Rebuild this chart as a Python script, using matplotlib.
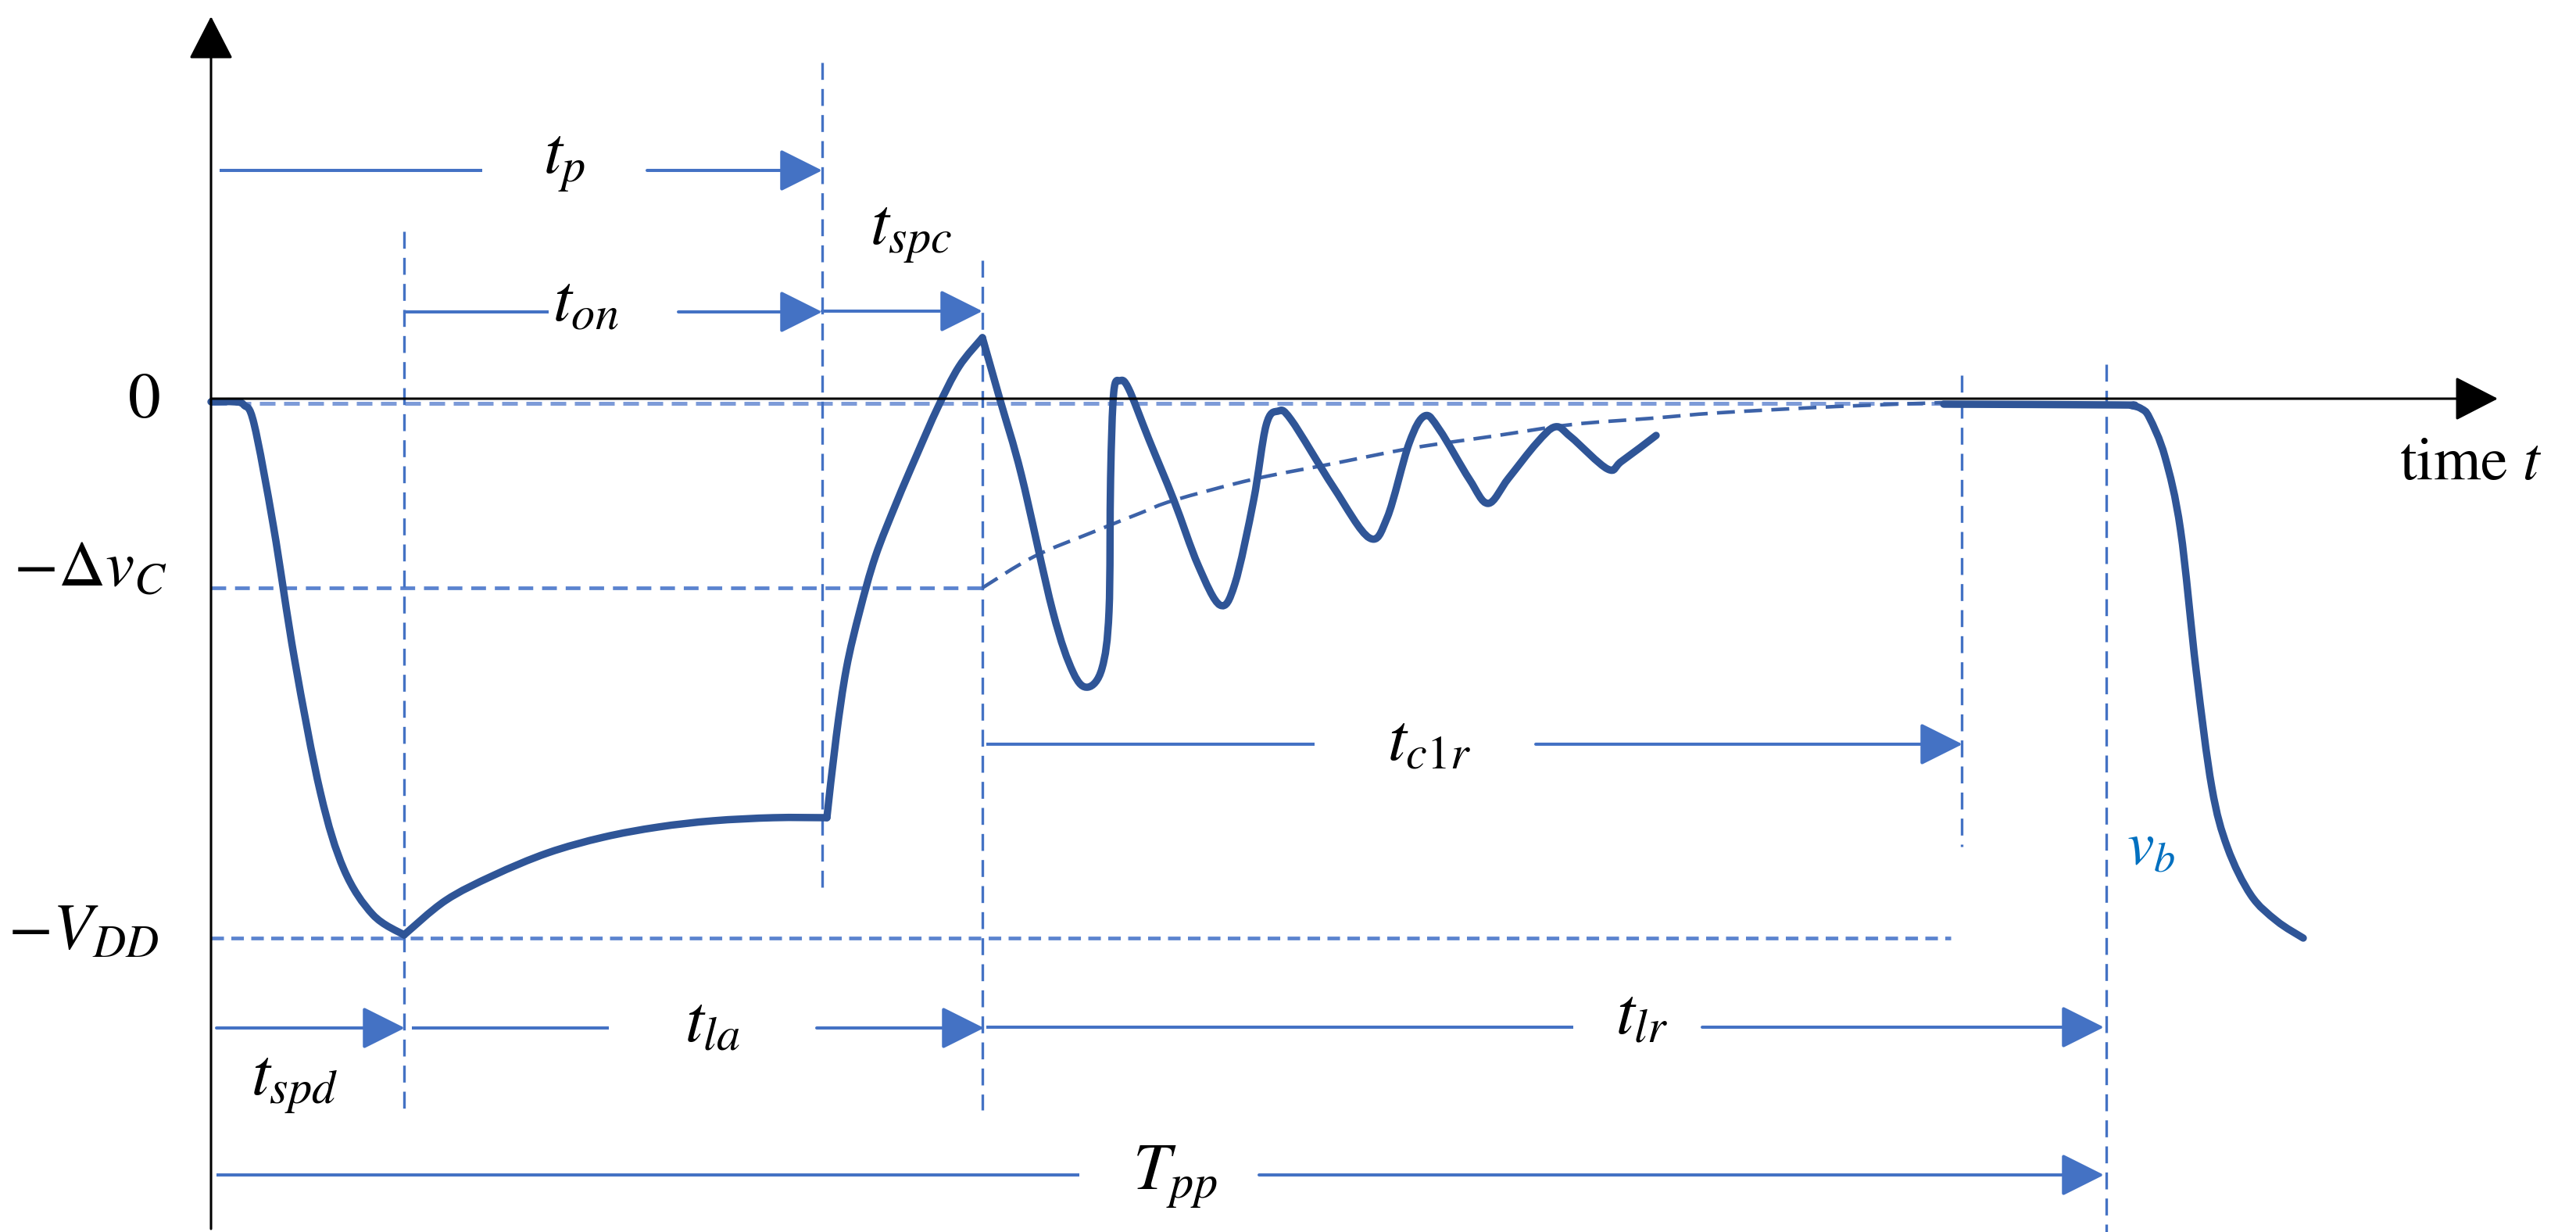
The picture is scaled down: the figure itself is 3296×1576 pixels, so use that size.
import numpy as np
import matplotlib.pyplot as plt
from matplotlib.path import Path
from matplotlib.patches import PathPatch

# ==============================
# Data (diagram units: time right of the v-axis, voltage above the 0 line)
# ==============================

# time markers on the t axis
t_spd_end = 247
t_p_end = 782
t_spc_end = 987
t_c1r_end = 2240
t_b = 2425

# voltage levels
v_zero = 0
v_dvc = -240
v_vdd = -688

# main waveform: drop to -VDD, sag, step up, overshoot and ringing
drop_t = [0, 30, 42, 55, 80, 107, 140, 170, 207, 247]
drop_v = [-2, -2, -6, -30, -162, -332, -502, -600, -658, -684]

sag_t = [247, 300, 361, 431, 502, 572, 642, 720, 788]
sag_v = [-684, -640, -608, -579, -559, -546, -538, -534, -534]

rise_t = [788, 800, 813, 830, 850, 877, 903, 930, 957, 987]
rise_v = [-534, -430, -343, -270, -200, -131, -70, -9, 43, 80]

ring_t = [987, 1010, 1037, 1077, 1103, 1122, 1140, 1149, 1151, 1155, 1163, 1174,
          1200, 1232, 1263, 1291, 1310, 1334, 1350, 1365, 1382, 1436, 1482, 1505,
          1533, 1553, 1572, 1610, 1634, 1660, 1696, 1720, 1740, 1787, 1805, 1849]
ring_v = [80, -1, -96, -270, -348, -367, -343, -270, -100, 10, 25, 15,
          -50, -128, -211, -262, -235, -128, -32, -14, -25, -111, -176, -150,
          -55, -20, -38, -101, -132, -100, -55, -34, -47, -88, -78, -45]

# next pulse
tail_t = [2217, 2440, 2458, 2470, 2480, 2500, 2520, 2540, 2560, 2580, 2610, 2643, 2677]
tail_v = [-5, -6, -7, -11, -22, -72, -166, -346, -495, -572, -633, -666, -688]

# decaying envelope of the ringing
env_t = [987, 1053, 1130, 1190, 1232, 1334, 1436, 1538, 1640, 1742, 1844, 1930, 2080, 2217]
env_v = [-240, -200, -168, -144, -128, -101, -81, -61, -46, -31, -23, -16, -8, -3]

# time spans (start, end)
span_tp = (11, t_p_end)
span_ton = (t_spd_end, t_p_end)
span_tspc = (t_p_end, t_spc_end)
span_tspd = (7, t_spd_end + 1)
span_tla = (257, t_spc_end + 2)
span_tlr = (992, t_b - 3)
span_tc1r = (992, t_c1r_end + 1)
span_tpp = (7, t_b - 3)

# ==============================
# Style
# ==============================

plt.rcParams['mathtext.fontset'] = 'stix'
plt.rcParams['font.family'] = 'STIXGeneral'

WAVE = '#2F5597'
ARROW = '#4472C4'
DASH = '#5B83CF'
ENV = '#3C62A8'
VB = '#0070C0'

fig = plt.figure(figsize=(32.96, 15.76), dpi=100)
ax = fig.add_axes([0, 0, 1, 1])
ax.set_xlim(-270, 3026)
ax.set_ylim(-1064, 512)
ax.axis('off')


def smooth_path(ts, vs):
    # Catmull-Rom through the read points, drawn as cubic Bezier segments
    p = np.column_stack([ts, vs]).astype(float)
    ext = np.vstack([p[0], p, p[-1]])
    verts = [p[0]]
    codes = [Path.MOVETO]
    for i in range(len(p) - 1):
        p0, p1, p2, p3 = ext[i], ext[i + 1], ext[i + 2], ext[i + 3]
        verts += [p1 + (p2 - p0) / 6, p2 - (p3 - p1) / 6, p2]
        codes += [Path.CURVE4] * 3
    return Path(verts, codes)


def draw_curve(ts, vs, **kw):
    ax.add_patch(PathPatch(smooth_path(ts, vs), fill=False, **kw))


# ==============================
# Axes with arrow heads
# ==============================

axis_style = '-|>,head_length=35,head_width=18'
ax.annotate('', xy=(0, 491), xytext=(0, -1060),
            arrowprops=dict(arrowstyle=axis_style, mutation_scale=1, color='black',
                            lw=2.2, shrinkA=0, shrinkB=0), zorder=6)
ax.annotate('', xy=(2926, 2), xytext=(0, 2),
            arrowprops=dict(arrowstyle=axis_style, mutation_scale=1, color='black',
                            lw=2.2, shrinkA=0, shrinkB=0), zorder=6)

# ==============================
# Dashed guide lines
# ==============================

ax.plot([0, 2217], [v_zero - 4, v_zero - 4], color='#7D9BD8', lw=3.6, dashes=(4, 2.2), zorder=2)
ax.plot([0, t_spc_end], [v_dvc, v_dvc], color=DASH, lw=3.4, dashes=(4, 2.4), zorder=2)
ax.plot([0, 2226], [v_vdd, v_vdd], color=DASH, lw=3.4, dashes=(3.4, 2.0), zorder=2)
draw_curve(env_t, env_v, edgecolor=ENV, lw=3.3, linestyle=(0, (5, 2.6)), zorder=3)

vlines = [(t_spd_end, 216, -908), (t_p_end, 432, -630), (t_spc_end, 179, -908),
          (t_c1r_end, 32, -571), (t_b, 46, -1064)]
for t, top, bottom in vlines:
    ax.plot([t, t], [top, bottom], color=ARROW, lw=2.4, dashes=(6.5, 3.5), zorder=2)

# ==============================
# Waveform
# ==============================

wave_kw = dict(edgecolor=WAVE, lw=6.8, capstyle='round', joinstyle='round', zorder=5)
draw_curve(drop_t, drop_v, **wave_kw)
draw_curve(sag_t, sag_v, **wave_kw)
draw_curve(rise_t, rise_v, **wave_kw)
draw_curve(ring_t, ring_v, **wave_kw)
draw_curve(tail_t, tail_v, **wave_kw)

# ==============================
# Time span arrows
# ==============================

head = '-|>,head_length=34,head_width=17'


def span_arrow(span, level, gap=None):
    start, end = span
    if gap is not None:
        ax.plot([start, gap[0]], [level, level], color=ARROW, lw=2.9,
                solid_capstyle='butt', zorder=4)
        start = gap[1]
    ax.annotate('', xy=(end, level), xytext=(start, level),
                arrowprops=dict(arrowstyle=head, mutation_scale=1, color=ARROW,
                                lw=2.9, shrinkA=0, shrinkB=0), zorder=4)


span_arrow(span_tp, 294, gap=(347, 558))
span_arrow(span_ton, 113, gap=(432, 598))
span_arrow(span_tspc, 114)
span_arrow(span_tspd, -803)
span_arrow(span_tla, -803, gap=(509, 775))
span_arrow(span_tlr, -802, gap=(1743, 1908))
span_arrow(span_tc1r, -440, gap=(1412, 1695))
span_arrow(span_tpp, -991, gap=(1111, 1341))

lab = dict(fontsize=62, ha='center', va='center', color='black')
ax.text(452, 303, r'$t_p$', **lab)
ax.text(479, 122, r'$t_{on}$', **lab)
ax.text(896, 212, r'$t_{spc}$', **lab)
ax.text(107, -876, r'$t_{spd}$', **lab)
ax.text(642, -800, r'$t_{la}$', **lab)
ax.text(1831, -790, r'$t_{lr}$', **lab)
ax.text(1559, -440, r'$t_{c1r}$', **lab)
ax.text(1233, -994, r'$T_{pp}$', **lab)

# ==============================
# Level and axis labels
# ==============================

ax.text(-85, v_zero - 3, '0', fontsize=60, ha='center', va='center')
ax.text(-56, v_dvc + 22, r'$-\mathit{\Delta} v_C$', fontsize=60, ha='right', va='center')
ax.text(-67, v_vdd + 5, r'$-V_{DD}$', fontsize=60, ha='right', va='center')
ax.text(2800, -83, r'time $t$', fontsize=56, ha='left', va='center')
ax.text(2482, -575, r'$v_b$', fontsize=56, ha='center', va='center', color=VB)

fig.savefig('out.png', dpi=100, facecolor='white')
